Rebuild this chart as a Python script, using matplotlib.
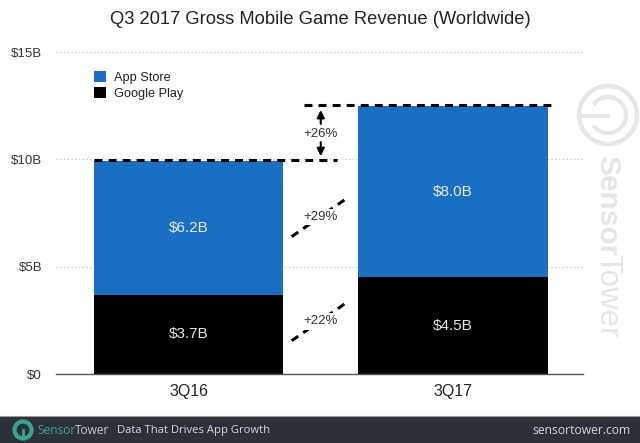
import matplotlib
matplotlib.use("Agg")
import matplotlib.pyplot as plt
from matplotlib.patches import Rectangle, Circle, Arc

plt.rcParams['font.family'] = ['Liberation Sans', 'DejaVu Sans']

categories = ["3Q16", "3Q17"]
google_play = [3.7, 4.5]
app_store = [6.2, 8.0]
totals = [9.95, 12.55]
google_labels = ["$3.7B", "$4.5B"]
app_labels = ["$6.2B", "$8.0B"]
y_ticks = [0, 5, 10, 15]
y_tick_labels = ["$0", "$5B", "$10B", "$15B"]
title = "Q3 2017 Gross Mobile Game Revenue (Worldwide)"
blue = "#1b6fc2"

W, H = 640, 443
fig = plt.figure(figsize=(W/100, H/100), dpi=100, facecolor="white")
ax = fig.add_axes([56/W, (H-374)/H, 527/W, 322/H])
ax.set_xlim(-0.501, 1.4915)
ax.set_ylim(0, 15)

for s in ax.spines.values():
    s.set_visible(False)
ax.spines['bottom'].set_visible(True)
ax.spines['bottom'].set_color("#555555")
ax.spines['bottom'].set_linewidth(1)

for t in y_ticks[1:]:
    ax.axhline(t, color="#c4c4c4", lw=0.9, ls=(0, (1, 2)), zorder=0)

xs = list(range(len(categories)))
width = 0.7146
ax.bar(xs, google_play, width, color="black", label="Google Play", zorder=2)
ax.bar(xs, app_store, width, bottom=google_play, color=blue, label="App Store", zorder=2)

for i in xs:
    ax.text(i, google_play[i]/2, google_labels[i], color="#e8e8e8", ha="center", va="center", fontsize=11)
    ax.text(i, google_play[i] + app_store[i]/2, app_labels[i], color="#e8eef6", ha="center", va="center", fontsize=11)

ax.set_yticks(y_ticks)
ax.set_yticklabels(y_tick_labels, fontsize=9.5, color="#333333")
ax.set_xticks(xs)
ax.set_xticklabels(categories, fontsize=11.5, color="#222222")
ax.tick_params(axis='both', length=0)
ax.tick_params(axis='x', pad=7)
ax.tick_params(axis='y', pad=10)

# growth annotations
dash = (0, (2.6, 2.0))
ax.plot([-0.358, 0.56], [totals[0]]*2, color="black", lw=2.2, ls=dash, zorder=4)
ax.plot([0.437, 1.37], [totals[1]]*2, color="black", lw=2.2, ls=dash, zorder=4)
ax.plot([0.39, 0.60], [6.4, 8.2], color="black", lw=2.2, ls=dash, zorder=4)
ax.plot([0.39, 0.60], [1.55, 3.35], color="black", lw=2.2, ls=dash, zorder=4)
box = dict(fc="white", ec="none", pad=1.5)
ax.text(0.5, 11.2, "+26%", ha="center", va="center", fontsize=9.5, color="#333333", zorder=5)
ax.text(0.5, 7.3, "+29%", ha="center", va="center", fontsize=9.5, color="#333333", zorder=5, bbox=box)
ax.text(0.5, 2.45, "+22%", ha="center", va="center", fontsize=9.5, color="#333333", zorder=5, bbox=box)
arrow = dict(arrowstyle="-|>", color="black", lw=1.5, mutation_scale=11, shrinkA=0, shrinkB=0)
ax.annotate("", xy=(0.5, 12.3), xytext=(0.5, 11.65), arrowprops=arrow)
ax.annotate("", xy=(0.5, 10.15), xytext=(0.5, 10.8), arrowprops=arrow)

fig.text(320.5/W, 1-20/H, title, ha="center", va="center", fontsize=13.2, color="#222222")

# legend
handles, labels = ax.get_legend_handles_labels()
ax.legend(handles[::-1], labels[::-1], loc="upper left", bbox_to_anchor=(38/527, 1-19/322),
          frameon=False, fontsize=9.2, handlelength=0.95, handleheight=0.95, handletextpad=0.65,
          labelspacing=0.22, borderpad=0, borderaxespad=0, labelcolor="#222222")

# watermark
bg = fig.add_axes([0, 0, 1, 1], facecolor="none", zorder=5)
bg.set_xlim(0, W); bg.set_ylim(H, 0); bg.axis("off")
wm = "#e6e6e6"
bg.add_patch(Circle((608, 115), 29, fill=False, ec=wm, lw=3.2))
bg.add_patch(Arc((608, 115), 36, 36, theta1=-145, theta2=145, ec=wm, lw=3))
bg.plot([580, 608], [116, 116], color=wm, lw=3, solid_capstyle="round")
bg.text(607, 155, "Sensor", rotation=-90, ha="center", va="top", fontsize=21.5,
        fontweight="bold", color=wm)
bg.text(607, 254, "Tower", rotation=-90, ha="center", va="top", fontsize=22.5, color=wm)

# footer
band = "#2c3038"
bg.add_patch(Rectangle((0, 416), W, 27, fc=band, ec="none"))
bg.plot([0, W], [415.5, 415.5], color="#999999", lw=0.8)
teal = "#3aa58f"
bg.add_patch(Circle((23, 430), 8.5, fill=False, ec=teal, lw=3))
bg.plot([23, 23], [430, 438], color=teal, lw=2)
bg.text(37, 430.5, "Sensor", color=teal, fontsize=8.6, va="center", ha="left", family="Open Sans")
bg.text(75, 430.5, "Tower", color="#c8ccd0", fontsize=8.6, va="center", ha="left", family="Open Sans")
bg.text(117, 430.5, "Data That Drives App Growth", color="#d5d8da", fontsize=8.1, va="center", ha="left", family="Open Sans")
bg.text(631, 430.5, "sensortower.com", color="#d5d8da", fontsize=8.7, va="center", ha="right", family="Open Sans")

fig.savefig("out.png", dpi=100)
